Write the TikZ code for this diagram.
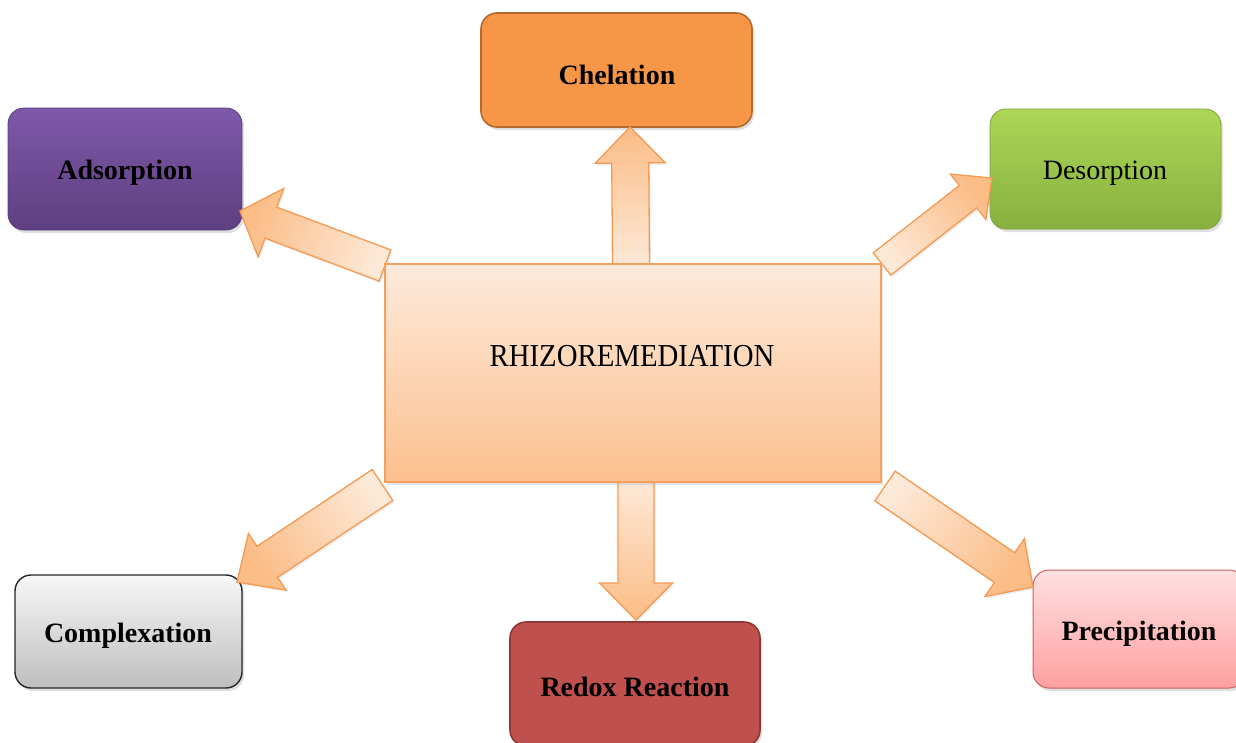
\documentclass[tikz,border=0pt]{standalone}
\usepackage{fontspec}
\setmainfont{Liberation Serif}
\usepackage{graphicx}
\usetikzlibrary{calc,shadows}
\definecolor{chelF}{HTML}{F79646}
\definecolor{chelD}{HTML}{B5692E}
\definecolor{adsT}{HTML}{7F58AA}
\definecolor{adsB}{HTML}{5E3F80}
\definecolor{adsD}{HTML}{5A3C7A}
\definecolor{desT}{HTML}{ACD655}
\definecolor{desB}{HTML}{88B040}
\definecolor{desD}{HTML}{7FA33C}
\definecolor{compT}{HTML}{F7F7F7}
\definecolor{compB}{HTML}{BEBEBE}
\definecolor{redF}{HTML}{C0504D}
\definecolor{redD}{HTML}{8E3936}
\definecolor{preT}{HTML}{FFE0E0}
\definecolor{preB}{HTML}{FFA0A0}
\definecolor{preD}{HTML}{C8605D}
\definecolor{cenT}{HTML}{FDEADB}
\definecolor{cenB}{HTML}{FCC08E}
\definecolor{cenD}{HTML}{F3A062}
\definecolor{arrT}{HTML}{FDE9D8}
\definecolor{arrH}{HTML}{FBBC86}
\definecolor{arrD}{HTML}{F59A52}
\tikzset{
  box/.style={rectangle, rounded corners=16pt, line width=1.6pt,
    drop shadow={shadow xshift=2pt, shadow yshift=-3pt, opacity=0.25}},
  lbl/.style={font=\fontsize{28}{30}\selectfont\bfseries, text=black},
  lblr/.style={font=\fontsize{28}{30}\selectfont, text=black},
  flowarrow/.style={draw=arrD, line width=1.3pt, line join=miter,
    top color=arrH, bottom color=arrT,
    drop shadow={shadow xshift=1.5pt, shadow yshift=-2pt, opacity=0.15}}
}
% #1 tail coordinate, #2 tip coordinate, #3 shaft half width, #4 head half width, #5 head length
\newcommand\blockarrow[5]{%
  \pgfpointdiff{\pgfpointanchor{#1}{center}}{\pgfpointanchor{#2}{center}}%
  \pgfgetlastxy{\bax}{\bay}%
  \pgfmathsetmacro\baang{atan2(\bay,\bax)}%
  \pgfmathsetmacro\balen{veclen(\bax,\bay)}%
  \pgfmathsetmacro\babase{\balen-#5}%
  \draw[flowarrow, shading angle=\baang-90]
    ($(#1)+(\baang-90:#3pt)$) --
    ($(#1)+(\baang:\babase pt)+(\baang-90:#3pt)$) --
    ($(#1)+(\baang:\babase pt)+(\baang-90:#4pt)$) --
    (#2) --
    ($(#1)+(\baang:\babase pt)+(\baang+90:#4pt)$) --
    ($(#1)+(\baang:\babase pt)+(\baang+90:#3pt)$) --
    ($(#1)+(\baang+90:#3pt)$) -- cycle;}
\begin{document}
\begin{tikzpicture}[x=1pt,y=-1pt]
\useasboundingbox[fill=white] (0,0) rectangle (1236,742);

% outer boxes
\node[box, draw=chelD, fill=chelF, minimum width=271pt, minimum height=114pt] (chel) at (616.5,70) {};
\node[lbl] at (617,75) {Chelation};

\node[box, draw=adsD, line width=0.8pt, top color=adsT, bottom color=adsB, minimum width=234pt, minimum height=122pt] (ads) at (125,169) {};
\node[lbl] at (125,173) {Adsorption};

\node[box, draw=desD, line width=0.8pt, top color=desT, bottom color=desB, minimum width=231pt, minimum height=120pt] (des) at (1105.5,169) {};
\node[lblr] at (1105,173) {Desorption};

\node[box, draw=black!85, line width=1.4pt, top color=compT, bottom color=compB, minimum width=227pt, minimum height=113pt] (comp) at (128.5,631.5) {};
\node[lbl] at (128,636) {Complexation};

\node[box, draw=redD, fill=redF, minimum width=250pt, minimum height=124pt] (red) at (635,684) {};
\node[lbl] at (635,687) {Redox Reaction};

\node[box, draw=preD, line width=1pt, top color=preT, bottom color=preB, minimum width=212pt, minimum height=118pt] (pre) at (1139,629) {};
\node[lbl] at (1139,634) {Precipitation};

% arrow end points
\coordinate (tU) at (631,266);   \coordinate (hU) at (630,127);
\coordinate (tD) at (636,480);   \coordinate (hD) at (636,620);
\coordinate (tUL) at (385,265.5); \coordinate (hUL) at (240,211);
\coordinate (tUR) at (882,264);  \coordinate (hUR) at (992,178);
\coordinate (tLL) at (382.5,485); \coordinate (hLL) at (237,582);
\coordinate (tLR) at (885,486);  \coordinate (hLR) at (1033,587);

\blockarrow{tU}{hU}{18.5}{35}{36}
\blockarrow{tD}{hD}{18}{36.5}{37}
\blockarrow{tUL}{hUL}{16.6}{36.5}{33}
\blockarrow{tUR}{hUR}{14.2}{28.7}{30.4}
\blockarrow{tLL}{hLL}{18.6}{34}{36.4}
\blockarrow{tLR}{hLR}{18}{35}{34.4}

% central box
\node[rectangle, draw=cenD, line width=1.3pt, top color=cenT, bottom color=cenB,
  minimum width=496pt, minimum height=218pt,
  drop shadow={shadow xshift=2pt, shadow yshift=-3pt, opacity=0.2}] (center) at (633,373) {};
\node[font=\fontsize{32}{34}\selectfont, text=black] (ctext) at (632,356) {\scalebox{0.9}[1]{RHIZOREMEDIATION}};
\end{tikzpicture}
\end{document}
